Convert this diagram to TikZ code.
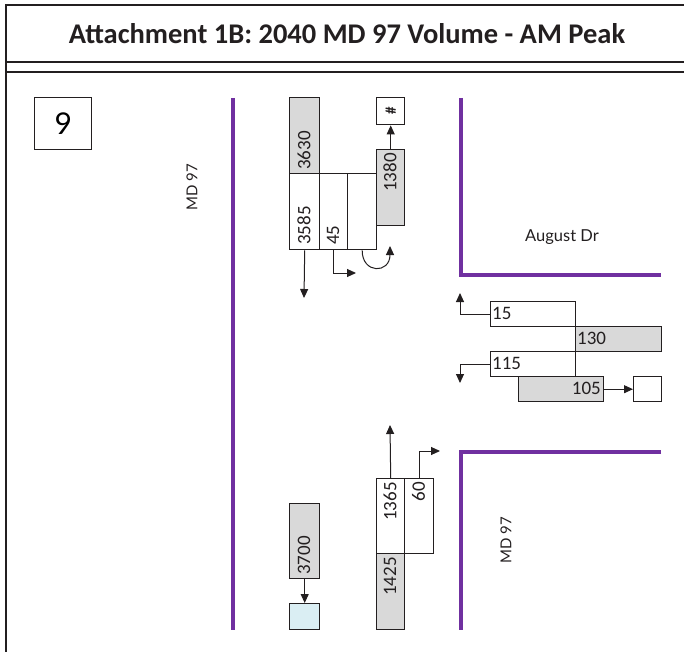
\documentclass[tikz,border=0pt]{standalone}
\usepackage{fontspec}
\setmainfont{Carlito}
\newfontfamily\labfont{Lato}
\usetikzlibrary{arrows.meta}
\definecolor{roadc}{RGB}{112,48,160}
\definecolor{framec}{RGB}{35,31,32}
\definecolor{grayf}{RGB}{217,217,217}
\definecolor{bluef}{RGB}{218,238,243}
\tikzset{
  frame/.style={line width=2pt, draw=framec},
  road/.style={line width=4pt, draw=roadc, line join=miter},
  box/.style={draw=framec, line width=1.4pt, inner sep=0pt, anchor=north west, fill=white},
  gbox/.style={box, fill=grayf},
  num/.style={font=\fontsize{19}{21}\selectfont, text=framec, inner sep=1pt},
  vnum/.style={num, rotate=90},
  arr/.style={line width=1pt, draw=framec, -{Triangle[length=9pt,width=8pt]}},
  lab/.style={font=\labfont\fontsize{15}{18}\selectfont, text=framec}
}
\begin{document}
\begin{tikzpicture}[x=1pt,y=-1pt]
\useasboundingbox (0,0) rectangle (684,652);
% frame
\draw[frame] (684,5) -- (6,5) -- (6,652);
\draw[frame] (6,62) -- (684,62);
\draw[frame] (6,72) -- (684,72);
\node[font=\fontsize{28.5}{32}\selectfont\bfseries, text=framec] (title) at (347,34) {Attachment 1B: 2040 MD 97 Volume - AM Peak};
% number box
\node[box, minimum width=57pt, minimum height=52pt, font=\labfont\fontsize{30}{32}\selectfont] (nine) at (34,97) {9};
% roads
\draw[road] (233,98) -- (233,630);
\draw[road] (461,98) -- (461,275) -- (661,275);
\draw[road] (661,452) -- (461,452) -- (461,630);
\node[lab, rotate=90] (md1) at (192,187) {MD 97};
\node[lab, font=\labfont\fontsize{16.5}{18}\selectfont] (aug) at (562,237) {August Dr};
\node[lab, rotate=90] (md2) at (506,540) {MD 97};
% top approach
\node[box, minimum width=30pt, minimum height=76pt] (b3585) at (289,173) {};
\node[box, minimum width=28pt, minimum height=76pt] (b45) at (319,173) {};
\node[box, minimum width=29pt, minimum height=76pt] (bU) at (347,173) {};
\node[gbox, minimum width=30pt, minimum height=76pt] (b3630) at (289,97) {};
\node[gbox, minimum width=28pt, minimum height=76pt] (b1380) at (376,149) {};
\node[box, minimum width=28pt, minimum height=27pt] (bhash) at (376,97) {};
\node[vnum, anchor=west] (t3630) at (304,171) {3630};
\node[vnum, anchor=west] (t3585) at (304,246) {3585};
\node[vnum, anchor=west] (t45) at (333,246) {45};
\node[vnum, anchor=east] (t1380) at (390,152) {1380};
\node[vnum, font=\fontsize{15}{16}\selectfont\bfseries] (thash) at (bhash.center) {\#};
\coordinate (c3585) at (304,298);
\coordinate (c45) at (356,273);
\coordinate (uend) at (390,246);
\draw[arr] (b1380.north) -- (bhash.south);
\draw[arr] (b3585.south) -- (c3585);
\draw[arr] (b45.south) |- (c45);
\draw[arr] (bU.south) .. controls (362,274) and (390,274) .. (uend);
% right approach
\node[box, minimum width=85pt, minimum height=25pt] (b15) at (490,301) {};
\node[box, minimum width=85pt, minimum height=25pt] (b115) at (490,351) {};
\node[gbox, minimum width=86pt, minimum height=25pt] (b130) at (575,326) {};
\node[gbox, minimum width=85pt, minimum height=25pt] (b105) at (518,376) {};
\node[box, minimum width=28pt, minimum height=25pt] (bout) at (633,376) {};
\node[num, anchor=west] (t15) at (491,313.5) {15};
\node[num, anchor=west] (t130) at (576,338.5) {130};
\node[num, anchor=west] (t115) at (491,363.5) {115};
\node[num, anchor=east] (t105) at (602,388.5) {105};
\coordinate (c15) at (460,293);
\coordinate (c115) at (460,383);
\draw[arr] (b15.west) -| (c15);
\draw[arr] (b115.west) -| (c115);
\draw[arr] (b105.east) -- (bout.west);
% bottom approach
\node[gbox, minimum width=30pt, minimum height=75pt] (b3700) at (289,503) {};
\node[box, fill=bluef, minimum width=30pt, minimum height=26pt] (bblue) at (289,603) {};
\node[box, minimum width=28pt, minimum height=75pt] (b1365) at (376,478) {};
\node[box, minimum width=29pt, minimum height=75pt] (b60) at (404,478) {};
\node[gbox, minimum width=28pt, minimum height=76pt] (b1425) at (376,553) {};
\node[vnum, anchor=west] (t3700) at (304,576) {3700};
\node[vnum, anchor=east] (t1365) at (390,481) {1365};
\node[vnum, anchor=east] (t60) at (418.5,481) {60};
\node[vnum, anchor=east] (t1425) at (390,556) {1425};
\coordinate (c1365) at (390,425);
\coordinate (c60) at (440,451);
\draw[arr] (b3700.south) -- (bblue.north);
\draw[arr] (b1365.north) -- (c1365);
\draw[arr] (b60.north) |- (c60);
\end{tikzpicture}
\end{document}
